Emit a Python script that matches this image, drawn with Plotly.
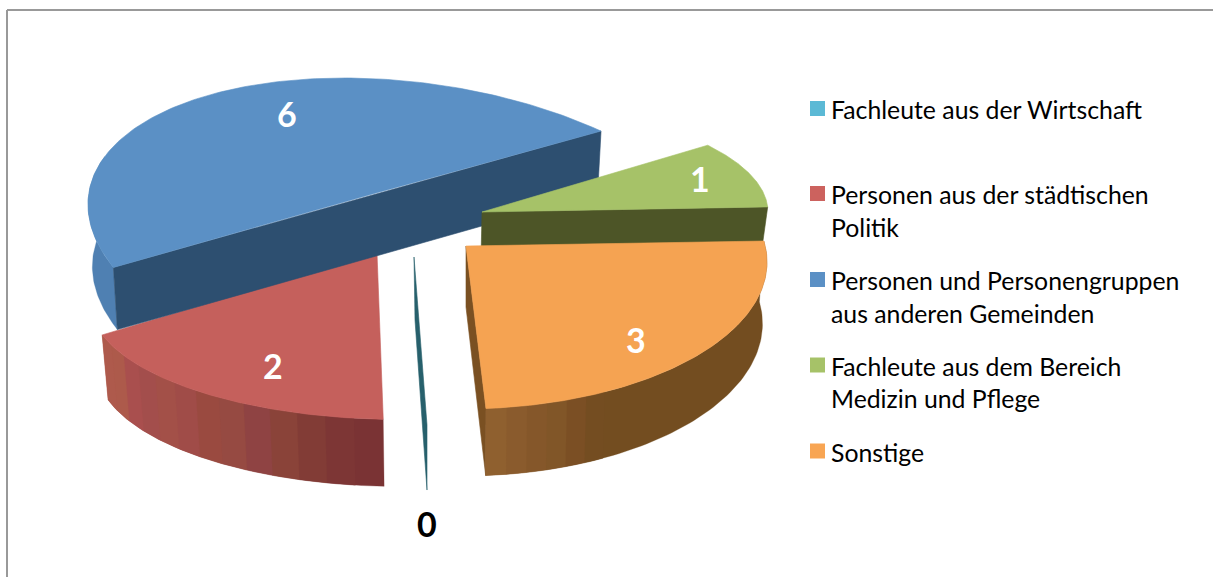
import numpy as np
import plotly.graph_objects as go

# ---- data ----
categories = ["Fachleute aus der Wirtschaft", "Personen aus der städtischen Politik",
              "Personen und Personengruppen aus anderen Gemeinden",
              "Fachleute aus dem Bereich Medizin und Pflege", "Sonstige"]
values = [0, 2, 6, 1, 3]
legend_lines = [["Fachleute aus der Wirtschaft"],
                ["Personen aus der städtischen", "Politik"],
                ["Personen und Personengruppen", "aus anderen Gemeinden"],
                ["Fachleute aus dem Bereich", "Medizin und Pflege"],
                ["Sonstige"]]
first_angle = 180

# ---- style / layout (pixel axes) ----
W, H = 1213, 577
top_col = ["#2a6270", "#c5605c", "#5b90c5", "#a6c268", "#f5a352"]
legend_col = ["#5bb9d5", "#cc625e", "#5b90c5", "#a6c268", "#f8a553"]
cut_col = ["#27606c", None, "#2d4f70", "#4d5527", "#7a5022"]
side_col = [
    [],
    ["#7a3334", "#7d3635", "#823c36", "#8a4339", "#8f4343", "#964a42", "#9a4a40", "#a04c48", "#a35048",
     "#a34e4c", "#a94f4e", "#ad5a4b", "#ae5a4c"],
    ["#4f80b2"],
    [],
    ["#734d20"] * 18 + ["#744d21", "#7b4f24", "#815628", "#85572a", "#8a5b2d", "#8f602f"],
]
side_span = [0, 60, 50, 0, 90]  # degrees of wall drawn from the slice's near end
# per-slice rim ellipse, apex and wall projection (angles continue past 360)
geom = [
    dict(c=(427, 257), r=(300, 168), sig=0, ap=(414, 257), ph=90, ph_t=180, gain=1, off=(1, 63), s=(.923, 1.012)),
    dict(c=(400, 302.5), r=(310, 117), sig=0, ap=(377, 253), ph=93.1, ph_t=180, gain=1.18, off=(1, 63), s=(.982, 1.024)),
    dict(c=(410, 237), r=(322, 159), sig=10500, ap=(376, 193), ph=157.1, ph_t=240, gain=.8294, off=(0, 62), s=(.985, 1)),
    dict(c=(468, 212), r=(300, 111), sig=0, ap=(482, 212), ph=-37.2, ph_t=420, gain=1.153, off=(-1, 48), s=(.98, 1)),
    dict(c=(462, 262), r=(305, 147), sig=0, ap=(466, 246), ph=-8.2, ph_t=450, gain=1.041, off=(0, 61), s=(.985, 1.037)),
]
label_xy = [(427, 523.5), (273, 365.5), (287, 113), (700, 178.5), (636, 339.5)]
label_col = ["#000000", "#ffffff", "#ffffff", "#ffffff", "#ffffff"]
legend_sw_y = [108.5, 193.5, 279.5, 365, 451]
legend_tx_y = [[109], [194, 227], [280, 313], [366, 398], [452]]


def rim(g, th):
    phi = np.radians(g["ph"] + g["gain"] * (np.asarray(th, float) - g["ph_t"]))
    w, h = g["r"]
    k = g["sig"] / w
    return g["c"][0] + w * np.cos(phi), g["c"][1] + k * np.cos(phi) + np.sqrt(h * h - k * k) * np.sin(phi)


def lower(g, x, y):
    ax, ay = g["ap"]
    return ax + g["off"][0] + g["s"][0] * (np.asarray(x) - ax), ay + g["off"][1] + g["s"][1] * (np.asarray(y) - ay)


def poly(fig, x, y, color, lw=0.6):
    fig.add_trace(go.Scatter(x=list(x), y=list(y), mode="lines", fill="toself", fillcolor=color,
                             line=dict(color=color, width=lw), hoverinfo="skip", showlegend=False))


unit = 360 / sum(values)
starts = first_angle + np.concatenate([[0], np.cumsum(values)[:-1]]) * unit
ends = starts + np.array(values) * unit

fig = go.Figure()


def wall(i):
    g = geom[i]
    cols = side_col[i]
    if not cols or not values[i]:
        return
    n = len(cols)
    edges = np.linspace(starts[i], starts[i] + side_span[i], n + 1)
    j = 0
    while j < n:
        m = j
        while m + 1 < n and cols[m + 1] == cols[j]:
            m += 1
        # each band runs on under the next one so that no seam shows
        th = np.linspace(edges[j], edges[min(m + 2, n)], 60)
        x, y = rim(g, th)
        xb, yb = lower(g, x, y)
        poly(fig, np.r_[x, xb[::-1], x[0]], np.r_[y, yb[::-1], y[0]], cols[j], 0.3)
        j = m + 1


def top(i):
    g = geom[i]
    th = np.linspace(starts[i], ends[i], 160)
    x, y = rim(g, th)
    poly(fig, np.r_[g["ap"][0], x, g["ap"][0]], np.r_[g["ap"][1], y, g["ap"][1]], top_col[i])


def cut(i, th, th2=None):
    g = geom[i]
    x, y = rim(g, np.array([th]))
    if th2 is None:
        px, py = np.array([g["ap"][0], x[0]]), np.array([g["ap"][1], y[0]])
    else:
        x2, y2 = rim(g, np.array([th2]))
        px, py = np.array([x2[0], x[0]]), np.array([y2[0], y[0]])
    xb, yb = lower(g, px, py)
    poly(fig, np.r_[px, xb[::-1], px[0]], np.r_[py, yb[::-1], py[0]], cut_col[i])


# painter's order: far slices first
wall(1); top(1)
wall(2); cut(2, starts[2], ends[2]); top(2)
cut(0, ends[0])
cut(3, ends[3]); top(3)
cut(4, ends[4]); wall(4); top(4)

# legend swatches
for i, name in enumerate(categories):
    fig.add_trace(go.Scatter(x=[817.5], y=[legend_sw_y[i]], mode="markers", name=name, showlegend=False,
                             marker=dict(symbol="square", size=15, color=legend_col[i], line=dict(width=0))))

ann = []
for i, v in enumerate(values):
    ann.append(dict(x=label_xy[i][0], y=label_xy[i][1], text=f"<b>{v}</b>", showarrow=False,
                    font=dict(family="Lato", size=34, color=label_col[i]), xanchor="center", yanchor="middle"))
for lines, ys in zip(legend_lines, legend_tx_y):
    for t, y in zip(lines, ys):
        ann.append(dict(x=829, y=y, text=t, showarrow=False, xanchor="left", yanchor="middle",
                        font=dict(family="Lato", size=24.8, color="#000000")))

shapes = [
    dict(type="line", x0=7, x1=W, y0=10, y1=10, line=dict(color="#999999", width=2)),
    dict(type="line", x0=7, x1=7, y0=10, y1=H, line=dict(color="#999999", width=2)),
]
fig.update_layout(width=W, height=H, margin=dict(l=0, r=0, t=0, b=0), paper_bgcolor="white", plot_bgcolor="white",
                  showlegend=False, annotations=ann, shapes=shapes,
                  xaxis=dict(range=[0, W], visible=False, fixedrange=True),
                  yaxis=dict(range=[H, 0], visible=False, fixedrange=True))
fig.write_html("out.html", config=dict(displayModeBar=False),
               post_script="document.body.style.margin='0';document.body.style.overflow='hidden';")
